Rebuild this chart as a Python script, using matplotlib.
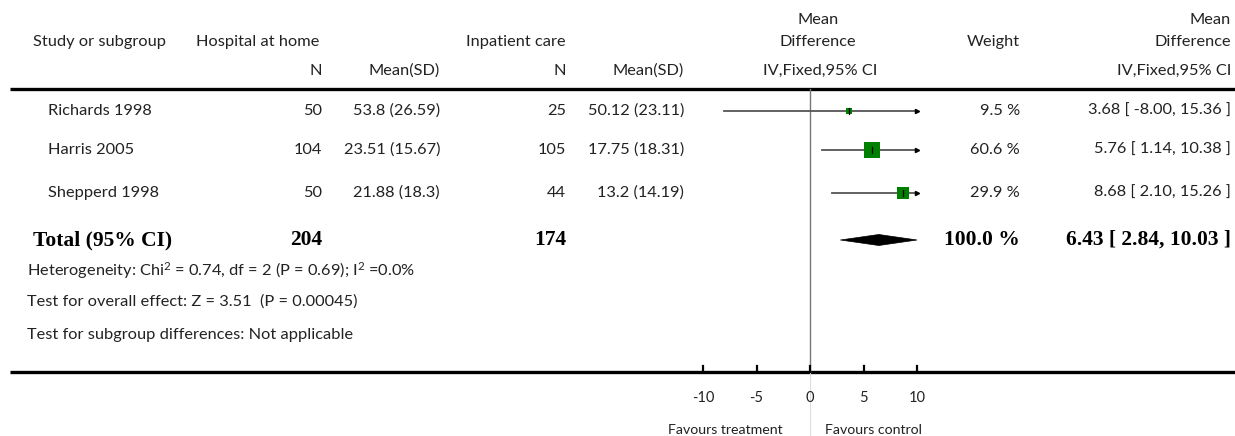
import matplotlib
matplotlib.use("Agg")
import matplotlib.pyplot as plt
import numpy as np
from matplotlib.patches import Polygon

# data
studies = ["Richards 1998", "Harris 2005", "Shepperd 1998"]
home_n = [50, 104, 50]
home_msd = ["53.8 (26.59)", "23.51 (15.67)", "21.88 (18.3)"]
inpat_n = [25, 105, 44]
inpat_msd = ["50.12 (23.11)", "17.75 (18.31)", "13.2 (14.19)"]
md = [3.68, 5.76, 8.68]
ci_lo = [-8.00, 1.14, 2.10]
ci_hi = [15.36, 10.38, 15.26]
weights = [9.5, 60.6, 29.9]
total_home, total_inpat = 204, 174
total_md, total_lo, total_hi = 6.43, 2.84, 10.03
total_weight = 100.0
footnotes = [
    "Heterogeneity: Chi$^2$ = 0.74, df = 2 (P = 0.69); I$^2$ =0.0%",
    "Test for overall effect: Z = 3.51  (P = 0.00045)",
    "Test for subgroup differences: Not applicable",
]
ticks = [-10, -5, 0, 5, 10]
x_range = (-10, 10)

W, H = 1235, 436
SANS = ["Lato", "DejaVu Sans"]
SERIF = ["Liberation Serif", "DejaVu Serif"]
FS = 11.8
BFS = 15.5
GREEN = "#008000"
TXT = "#222222"

plt.rcParams["mathtext.fontset"] = "custom"
plt.rcParams["mathtext.rm"] = "Lato"
plt.rcParams["mathtext.it"] = "Lato"
plt.rcParams["mathtext.default"] = "rm"

fig = plt.figure(figsize=(W / 100, H / 100), dpi=100)
ax = fig.add_axes([0, 0, 1, 1])
ax.set_xlim(0, W)
ax.set_ylim(H, 0)
ax.axis("off")


def txt(x, y, s, ha="left", bold=False, **kw):
    if bold:
        ax.text(x, y, s, ha=ha, va="center", family=SERIF, fontsize=BFS,
                fontweight="bold", color="black", **kw)
    else:
        ax.text(x, y, s, ha=ha, va="center", family=SANS, fontsize=FS,
                color=TXT, **kw)


# header
txt(33, 42, "Study or subgroup")
txt(196, 42, "Hospital at home")
txt(466, 42, "Inpatient care")
txt(818, 20, "Mean", ha="center")
txt(818, 42, "Difference", ha="center")
txt(1020, 42, "Weight", ha="right")
txt(1231, 20, "Mean", ha="right")
txt(1231, 42, "Difference", ha="right")
txt(322, 71, "N", ha="right")
txt(440, 71, "Mean(SD)", ha="right")
txt(566, 71, "N", ha="right")
txt(684, 71, "Mean(SD)", ha="right")
txt(820, 71, "IV,Fixed,95% CI", ha="center")
txt(1231, 71, "IV,Fixed,95% CI", ha="right")

ax.plot([10, W], [89, 89], color="black", lw=2.4, solid_capstyle="butt")
ax.plot([10, W], [372, 372], color="black", lw=2.4, solid_capstyle="butt")

row_y = [111, 150, 193]
for i, y in enumerate(row_y):
    txt(48, y, studies[i])
    txt(322, y, str(home_n[i]), ha="right")
    txt(440, y, home_msd[i], ha="right")
    txt(566, y, str(inpat_n[i]), ha="right")
    txt(684, y, inpat_msd[i], ha="right")
    txt(1020, y, f"{weights[i]:.1f} %", ha="right")
    txt(1231, y, f"{md[i]:.2f} [ {ci_lo[i]:.2f}, {ci_hi[i]:.2f} ]", ha="right")

ty = 240
txt(33, ty, "Total (95% CI)", bold=True)
txt(322, ty, str(total_home), ha="right", bold=True)
txt(566, ty, str(total_inpat), ha="right", bold=True)
txt(1020, ty, f"{total_weight:.1f} %", ha="right", bold=True)
txt(1231, ty, f"{total_md:.2f} [ {total_lo:.2f}, {total_hi:.2f} ]", ha="right", bold=True)

for s, y in zip(footnotes, [271, 302, 335]):
    txt(27, y, s)

# forest panel
fax = fig.add_axes([703 / W, 0, 214 / W, 1])
fax.set_xlim(*x_range)
fax.set_ylim(H, 0)
fax.axis("off")
fax.patch.set_alpha(0)

fax.plot([0, 0], [89, 372], color="#777777", lw=1.0)
fax.plot([0, 0], [372, H], color="#dddddd", lw=0.8)

lo_lim, hi_lim = x_range
for i, y in enumerate(row_y):
    lo = max(ci_lo[i], lo_lim)
    hi = min(ci_hi[i], hi_lim)
    fax.plot([lo, hi], [y, y], color="#555555", lw=1.3, clip_on=False, zorder=2)
    if ci_hi[i] > hi_lim:
        fax.plot(hi_lim, y, marker=">", color="black", ms=3, clip_on=False, zorder=3)
    if ci_lo[i] < lo_lim:
        fax.plot(lo_lim, y, marker="<", color="black", ms=3, clip_on=False, zorder=3)
    side = 1.57 * np.sqrt(weights[i])
    fax.plot(md[i], y, marker="s", color=GREEN, ms=side, mew=0, zorder=4, clip_on=False)
    fax.plot([md[i], md[i]], [y - 3, y + 3], color="black", lw=0.9, zorder=5, clip_on=False)

dx_hi = min(total_hi, hi_lim)
diamond = Polygon([[total_lo, ty], [total_md, ty - 5.5], [dx_hi, ty], [total_md, ty + 5.5]],
                  closed=True, facecolor="black", edgecolor="black", lw=0.5, clip_on=False)
fax.add_patch(diamond)

for t in ticks:
    fax.plot([t, t], [366, 372], color="black", lw=1.6, clip_on=False)
    fax.text(t, 398, str(t), ha="center", va="center", family=SANS, fontsize=10.5,
             color=TXT)
fax.text(-7.9, 430, "Favours treatment", ha="center", va="center", family=SANS,
         fontsize=10.2, color=TXT)
fax.text(5.9, 430, "Favours control", ha="center", va="center", family=SANS,
         fontsize=10.2, color=TXT)

fig.savefig("out.png", dpi=100)
